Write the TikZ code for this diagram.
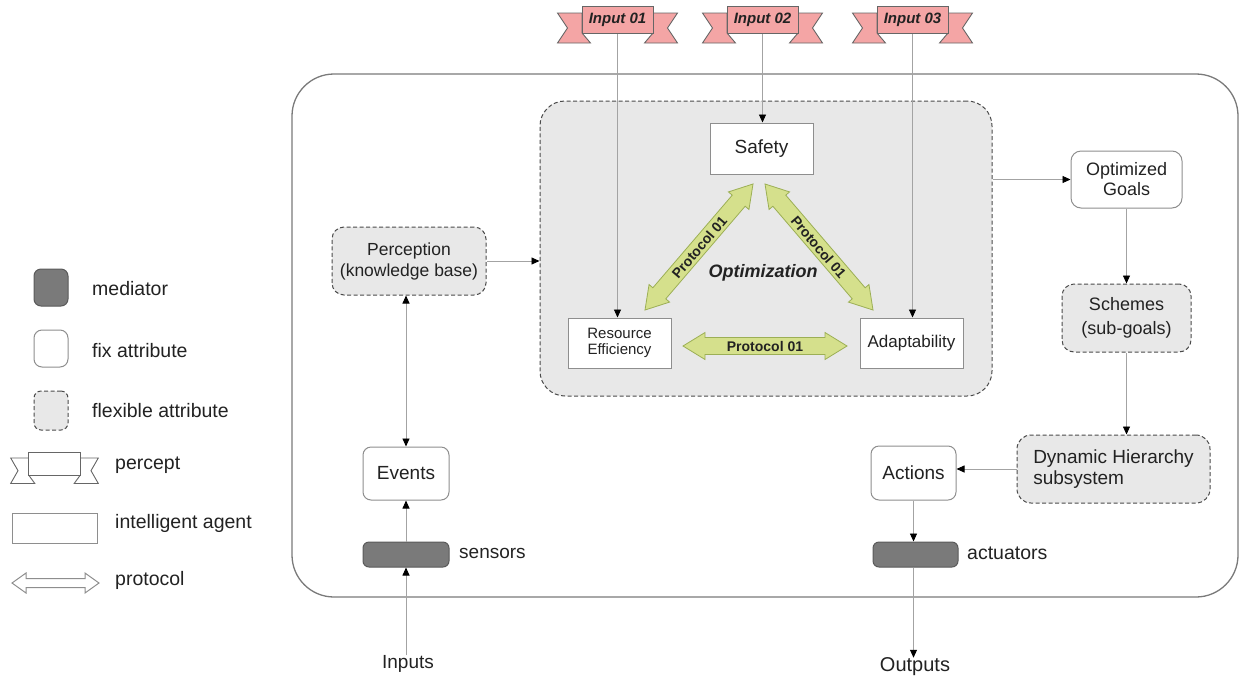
\documentclass[tikz,border=0pt]{standalone}
\usepackage{fontspec}
\setmainfont{Liberation Sans}
\usetikzlibrary{arrows.meta,calc}

\definecolor{ink}{HTML}{222222}
\definecolor{linecol}{HTML}{A3A3A3}
\definecolor{boxcol}{HTML}{8E8E8E}
\definecolor{dashcol}{HTML}{4A4A4A}
\definecolor{flexfill}{HTML}{E8E8E8}
\definecolor{medfill}{HTML}{7A7A7A}
\definecolor{medborder}{HTML}{5A5A5A}
\definecolor{pinkfill}{HTML}{F4A5A5}
\definecolor{pinkborder}{HTML}{666666}
\definecolor{greenfill}{HTML}{D5E08C}
\definecolor{greenborder}{HTML}{9CAF55}
\definecolor{outercol}{HTML}{7A7A7A}

% size helper: font size and baseline skip in pt
\newcommand\fsz[2]{\fontsize{#1pt}{#2pt}\selectfont}

% banner ("percept"): #1 name, #2 centre x, #3 top y, #4 xscale, #5 yscale, #6 fill, #7 label
\newcommand\perceptflag[7]{%
  \begin{scope}[shift={(#2,#3)}, xscale=#4, yscale=#5]
    \draw[draw=pinkborder, fill=#6, line width=0.9pt, line join=miter]
      (-35.5,7) -- (-60,7) -- (-50,22) -- (-60,37) -- (-27,37) -- (-35.5,27) -- cycle;
    \draw[draw=pinkborder, fill=#6, line width=0.9pt, line join=miter]
      (35.5,7) -- (60,7) -- (50,22) -- (60,37) -- (27,37) -- (35.5,27) -- cycle;
    \node[draw=pinkborder, fill=#6, line width=0.9pt, transform shape, anchor=north,
          minimum width=71pt, minimum height=27pt, inner sep=0pt, text=ink,
          font=\fsz{15}{17}\bfseries\itshape] (#1) at (0,0) {#7};
  \end{scope}}

% double-headed protocol arrow:
% #1 style, #2 cx, #3 cy, #4 angle, #5 length, #6 half shaft, #7 half head, #8 head length, #9 label
\newcommand\protocolarrow[9]{%
  \begin{scope}[shift={(#2,#3)}, rotate=#4]
    \draw[#1, line join=miter]
      ({-(#5)/2},0) -- ({-(#5)/2+#8},{#7}) -- ({-(#5)/2+#8},{#6}) --
      ({(#5)/2-#8},{#6}) -- ({(#5)/2-#8},{#7}) -- ({(#5)/2},0) --
      ({(#5)/2-#8},{-(#7)}) -- ({(#5)/2-#8},{-(#6)}) --
      ({-(#5)/2+#8},{-(#6)}) -- ({-(#5)/2+#8},{-(#7)}) -- cycle;
    \node[transform shape, text=ink, font=\fsz{14}{16}\bfseries, inner sep=0pt] at (0,0.5) {#9};
  \end{scope}}

\begin{document}
\begin{tikzpicture}[x=1pt, y=-1pt,
  fixbox/.style={draw=boxcol, fill=white, rounded corners=8pt, line width=1pt,
                 align=center, text=ink, inner sep=0pt},
  flexbox/.style={draw=dashcol, fill=flexfill, dash pattern=on 4pt off 2.5pt,
                  rounded corners=12pt, line width=1pt, align=center, text=ink, inner sep=0pt},
  agentbox/.style={draw=boxcol, fill=white, line width=1pt, align=center, text=ink, inner sep=0pt},
  mediatorbox/.style={draw=medborder, fill=medfill, rounded corners=6pt, line width=1pt, inner sep=0pt},
  label/.style={text=ink, inner sep=0pt},
  flow/.style={draw=linecol, line width=0.9pt, -{Triangle[length=8pt,width=7pt,color=black]}},
  flowboth/.style={draw=linecol, line width=0.9pt,
                   {Triangle[length=8pt,width=7pt,color=black]}-{Triangle[length=8pt,width=7pt,color=black]}},
  greenarrow/.style={draw=greenborder, fill=greenfill, line width=0.8pt},
  legendarrow/.style={draw=boxcol, fill=white, line width=1pt}
]
\useasboundingbox (0,0) rectangle (1239,678);

% ---------- legend ----------
\node[mediatorbox, rounded corners=7pt, minimum width=34pt, minimum height=37pt] (lgmed) at (51,287.5) {};
\node[label, anchor=west, font=\fsz{19.5}{22}] (lgmedtxt) at (92,289) {mediator};
\node[fixbox, minimum width=34pt, minimum height=37pt] (lgfix) at (51,348.5) {};
\node[label, anchor=west, font=\fsz{19.5}{22}] (lgfixtxt) at (92,351) {fix attribute};
\node[flexbox, rounded corners=7pt, minimum width=34pt, minimum height=39pt] (lgflex) at (51,410.5) {};
\node[label, anchor=west, font=\fsz{19.5}{22}] (lgflextxt) at (92,411) {flexible attribute};
\perceptflag{lgpercept}{54.5}{452}{0.73}{0.85}{white}{}
\node[label, anchor=west, font=\fsz{19.5}{22}] (lgperctxt) at (115,465) {percept};
\node[agentbox, minimum width=85pt, minimum height=30pt] (lgagent) at (54.5,528) {};
\node[label, anchor=west, font=\fsz{19.5}{22}] (lgagenttxt) at (115,523) {intelligent agent};
\protocolarrow{legendarrow}{55.5}{583}{0}{87}{4.5}{10}{14}{}
\node[label, anchor=west, font=\fsz{19.5}{22}] (lgprottxt) at (115,580) {protocol};

% ---------- agent system frame ----------
\node[draw=outercol, line width=1.3pt, rounded corners=42pt, minimum width=946pt,
      minimum height=523pt, inner sep=0pt] (system) at (765,335.5) {};

% ---------- optimization core ----------
\node[flexbox, rounded corners=25pt, minimum width=452pt, minimum height=295pt] (optbox) at (766,248.5) {};
\node[agentbox, minimum width=103pt, minimum height=51pt, font=\fsz{19}{22}] (safety) at (761.5,148.5) {Safety};
\node[agentbox, minimum width=103pt, minimum height=50pt, font=\fsz{15}{16.5}] (res) at (619.5,343) {Resource\\Efficiency};
\node[agentbox, minimum width=103pt, minimum height=50pt, font=\fsz{17}{20}] (adapt) at (911.5,343) {Adaptability};
\node[label, font=\fsz{18}{20}\bfseries\itshape] (opttxt) at (763,273) {Optimization};

\protocolarrow{greenarrow}{699}{247}{49.4}{166}{8.5}{13.5}{22}{Protocol 01}
\protocolarrow{greenarrow}{819}{247}{-49.4}{166}{8.5}{13.5}{22}{Protocol 01}
\protocolarrow{greenarrow}{765}{346}{0}{164}{8.5}{13.5}{22}{Protocol 01}

% ---------- inputs (percepts) ----------
\perceptflag{in1}{617.5}{6}{1}{1}{pinkfill}{Input 01}
\perceptflag{in2}{762.5}{6}{1}{1}{pinkfill}{Input 02}
\perceptflag{in3}{912.5}{6}{1}{1}{pinkfill}{Input 03}

% ---------- left column ----------
\node[flexbox, minimum width=154pt, minimum height=68pt, font=\fsz{17.5}{21}] (perc) at (409,261) {Perception\\(knowledge base)};
\node[fixbox, minimum width=86pt, minimum height=53pt, font=\fsz{19}{22}] (events) at (406,473.5) {Events};
\node[mediatorbox, minimum width=86pt, minimum height=25pt] (sensors) at (406,554.5) {};
\node[label, anchor=west, font=\fsz{19}{22}] (sensorstxt) at (459,553) {sensors};
\node[label, font=\fsz{19}{22}] (inputs) at (408,664) {Inputs};

% ---------- right column ----------
\node[fixbox, rounded corners=10pt, minimum width=111pt, minimum height=57pt, font=\fsz{18}{20}] (goals) at (1126.5,179.5) {Optimized\\Goals};
\node[flexbox, minimum width=129pt, minimum height=68pt, font=\fsz{18}{24}] (schemes) at (1126.5,318) {Schemes\\(sub-goals)};
\node[flexbox, rounded corners=14pt, minimum width=193pt, minimum height=68pt, align=left, font=\fsz{19}{20.5}] (dyn) at (1113.5,469) {Dynamic Hierarchy\\subsystem};
\node[fixbox, minimum width=85pt, minimum height=54pt, font=\fsz{19}{22}] (actions) at (913.5,473) {Actions};
\node[mediatorbox, minimum width=85pt, minimum height=25pt] (actuators) at (915.5,554.5) {};
\node[label, anchor=west, font=\fsz{19.5}{22}] (actuatorstxt) at (967,553) {actuators};
\node[label, font=\fsz{20}{22}] (outputs) at (915,667) {Outputs};

% ---------- connectors ----------
\draw[flow] (in1.south) -- (in1.south |- res.north);
\draw[flow] (in2.south) -- (in2.south |- safety.north);
\draw[flow] (in3.south) -- (in3.south |- adapt.north);
\draw[flow] (perc.east) -- (perc.east -| optbox.west);
\draw[flow] (optbox.east |- goals.west) -- (goals.west);
\draw[flow] (goals.south) -- (schemes.north);
\draw[flow] (schemes.south) -- (schemes.south |- dyn.north);
\draw[flow] (dyn.west) -- (dyn.west -| actions.east);
\draw[flow] (actions.south) -- (actions.south |- actuators.north);
\draw[flow] (actions.south |- actuators.south) -- (actions.south |- outputs.north);
\draw[flow] (sensors.south |- inputs.north) -- (sensors.south);
\draw[flow] (sensors.north) -- (events.south);
\draw[flowboth] (events.north) -- (events.north |- perc.south);
\end{tikzpicture}
\end{document}
